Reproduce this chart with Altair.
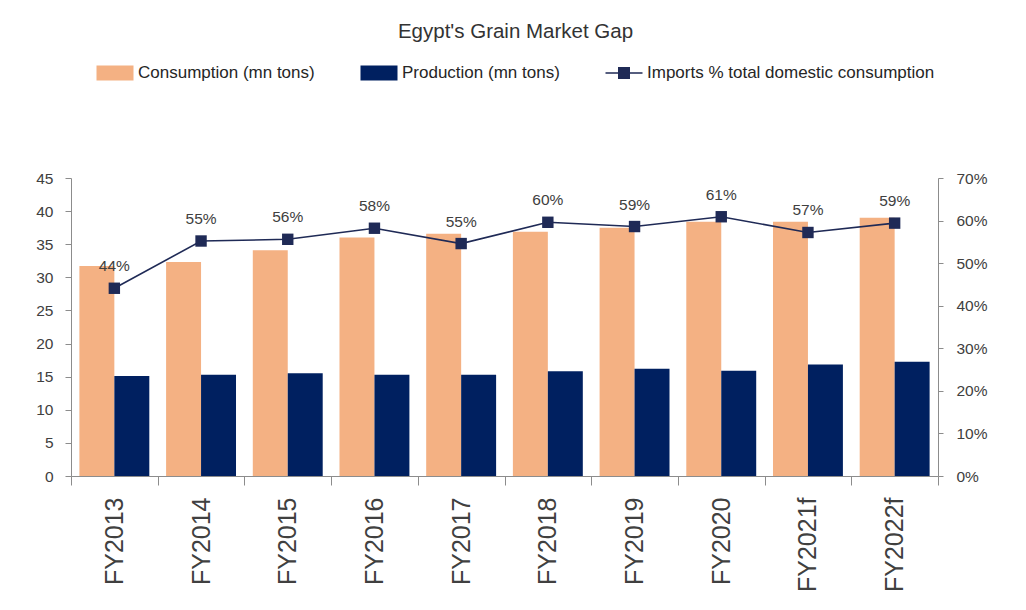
import altair as alt
import pandas as pd

years = ["FY2013", "FY2014", "FY2015", "FY2016", "FY2017",
         "FY2018", "FY2019", "FY2020", "FY2021f", "FY2022f"]
consumption = [31.7, 32.3, 34.1, 36.0, 36.6, 36.9, 37.5, 38.4, 38.4, 39.0]
production = [15.1, 15.3, 15.5, 15.3, 15.3, 15.8, 16.2, 15.9, 16.85, 17.25]
imports_pct = [44.1, 55.2, 55.6, 58.2, 54.6, 59.6, 58.6, 60.9, 57.2, 59.4]

series_names = ["Consumption (mn tons)", "Production (mn tons)",
                "Imports % total domestic consumption"]
series_colors = ["#F4B183", "#002060", "#1F2A56"]
legend_paths = [
    "M-1.85,-0.75H1.85V0.75H-1.85Z",
    "M-1.85,-0.75H1.85V0.75H-1.85Z",
    "M-1.85,-0.07H1.85V0.07H-1.85Z M-0.6,-0.6H0.6V0.6H-0.6Z",
]
left_ticks = [0, 5, 10, 15, 20, 25, 30, 35, 40, 45]
right_ticks = [0, 10, 20, 30, 40, 50, 60, 70]

FONT = "Liberation Sans"
TXT = "#404040"
AX = "#8C8C8C"

bars_df = pd.DataFrame(
    [{"year": y, "series": series_names[0], "value": c} for y, c in zip(years, consumption)]
    + [{"year": y, "series": series_names[1], "value": p} for y, p in zip(years, production)]
)
line_df = pd.DataFrame({"year": years, "pct": imports_pct,
                        "series": series_names[2]})

color_scale = alt.Scale(domain=series_names, range=series_colors)
shape_scale = alt.Scale(domain=series_names, range=legend_paths)
legend = alt.Legend(
    title=None, orient="none", direction="horizontal",
    legendX=34, legendY=-115, padding=0,
    columnPadding=45, labelOffset=13, symbolSize=400, labelLimit=500,
    labelFont=FONT, labelFontSize=17, labelColor="#262626",
    symbolStrokeWidth=0, symbolOpacity=1,
)

x_enc = alt.X(
    "year:N", sort=years, title=None,
    scale=alt.Scale(paddingInner=0, paddingOuter=0),
    axis=alt.Axis(labelAngle=-90, labelFont=FONT, labelFontSize=25,
                  labelColor=TXT, domainColor=AX, tickColor=AX,
                  tickSize=9, labelPadding=12, tickBand="extent", grid=False),
)

bars = alt.Chart(bars_df).mark_bar().encode(
    x=x_enc,
    xOffset=alt.XOffset("series:N", sort=series_names[:2],
                        scale=alt.Scale(paddingInner=0, paddingOuter=0.24)),
    y=alt.Y("value:Q", title=None,
            scale=alt.Scale(domain=[0, 45], nice=False),
            axis=alt.Axis(orient="left", values=left_ticks, labelFont=FONT,
                          labelFontSize=15.5, labelColor=TXT, domainColor=AX,
                          tickColor=AX, tickSize=6, labelPadding=12, grid=False)),
    color=alt.Color("series:N", scale=color_scale, legend=legend),
)

y_right = alt.Y("pct:Q", title=None,
                scale=alt.Scale(domain=[0, 70], nice=False),
                axis=alt.Axis(orient="right", values=right_ticks,
                              labelExpr="datum.value + '%'", labelFont=FONT,
                              labelFontSize=15.5, labelColor=TXT, domainColor=AX,
                              tickColor=AX, tickSize=5, labelPadding=13, grid=False))

base = alt.Chart(line_df).encode(x=alt.X("year:N", sort=years), y=y_right)
line = base.mark_line(color=series_colors[2], strokeWidth=1.6)
points = base.mark_point(shape="square", filled=True, size=130,
                         color=series_colors[2], opacity=1)
labels = base.transform_calculate(
    lbl="format(datum.pct, '.0f') + '%'"
).mark_text(dy=-22, font=FONT, fontSize=15.5, color=TXT).encode(text="lbl:N")
legend_layer = base.transform_filter("false").mark_point(filled=True, opacity=1).encode(
    color=alt.Color("series:N", scale=color_scale, legend=legend),
    shape=alt.Shape("series:N", scale=shape_scale, legend=legend),
)

right = alt.layer(line, points, labels, legend_layer)

chart = alt.layer(bars, right).resolve_scale(y="independent").properties(
    width=867, height=298,
    title=alt.TitleParams("Egypt's Grain Market Gap", font=FONT, fontSize=20.5,
                          fontWeight="normal", color="#333333",
                          anchor="middle", offset=21, dx=11),
    autosize=alt.AutoSizeParams(type="none"),
    padding={"left": 63, "top": 170, "right": 80, "bottom": 120},
).configure_view(stroke=None)

chart.save("out.html", embed_options={"renderer": "svg", "actions": False})
